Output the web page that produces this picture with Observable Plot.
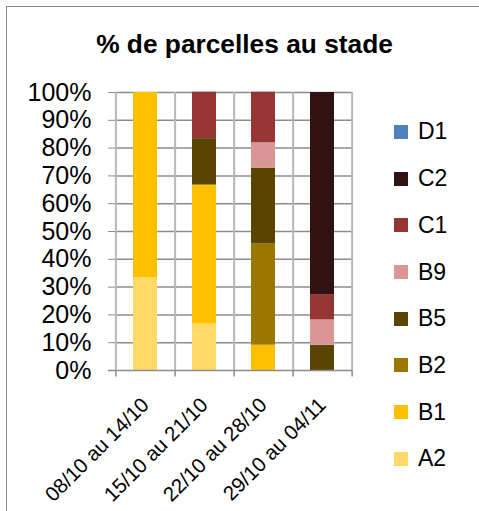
<!DOCTYPE html>
<html><head><meta charset="utf-8">
<script src="https://cdn.jsdelivr.net/npm/d3@7"></script>
<script src="https://cdn.jsdelivr.net/npm/@observablehq/plot@0.6"></script>
<style>
body{margin:0;background:#fff;font-family:"Liberation Sans",Arial,sans-serif;}
#wrap{position:relative;width:479px;height:511px;overflow:hidden;background:#fff;}
#frame{position:absolute;left:6px;top:6px;width:700px;height:700px;border:1.5px solid #8a8a8a;}
#title{position:absolute;left:0;top:31px;width:489px;text-align:center;font-weight:bold;font-size:26.3px;line-height:26px;color:#000;}
#chart{position:absolute;left:0;top:0;}
#legend{position:absolute;left:394px;top:108.6px;}
.item{display:flex;align-items:center;height:46.7px;font-size:23px;color:#000;}
.sw{width:14px;height:14px;margin-right:10px;}
</style>
</head><body>
<div id="wrap">
  <div id="frame"></div>
  <div id="chart"></div>
  <div id="title">% de parcelles au stade</div>
  <div id="legend"></div>
</div>
<script>
const periods = ["08/10 au 14/10", "15/10 au 21/10", "22/10 au 28/10", "29/10 au 04/11"];
const stages = ["A2", "B1", "B2", "B5", "B9", "C1", "C2", "D1"];
const stageColors = ["#FFD966", "#FFC000", "#9C7700", "#5A4500", "#DA9694", "#963634", "#321112", "#4F81BD"];
const A2 = [33.3, 16.7, 0, 0];
const B1 = [66.7, 50.0, 9.1, 0];
const B2 = [0, 0, 36.4, 0];
const B5 = [0, 16.7, 27.3, 9.1];
const B9 = [0, 0, 9.1, 9.1];
const C1 = [0, 16.7, 18.2, 9.1];
const C2 = [0, 0, 0, 72.7];
const D1 = [0, 0, 0, 0];
const yTicks = [0, 10, 20, 30, 40, 50, 60, 70, 80, 90, 100];

const series = {A2, B1, B2, B5, B9, C1, C2, D1};
const rows = [];
stages.forEach(s => series[s].forEach((v, i) => { if (v > 0) rows.push({stage: s, period: periods[i], value: v}); }));

const W = 479, H = 511, mL = 115, mR = 127, mT = 92, mB = 141;
const step = (W - mL - mR) / periods.length;
const gridDark = "#8c8c8c", gridLight = "#b7b7b7";

const chart = Plot.plot({
  width: W, height: H,
  marginLeft: mL, marginRight: mR, marginTop: mT, marginBottom: mB,
  style: {fontFamily: "'Liberation Sans', Arial, sans-serif", background: "transparent", color: "#000", overflow: "visible"},
  x: {domain: periods, paddingInner: 0.59, paddingOuter: 0.295, label: null},
  y: {domain: [0, 100], label: null},
  color: {domain: stages, range: stageColors},
  marks: [
    Plot.ruleY(yTicks.slice(1), {stroke: gridDark, strokeWidth: 1.5}),
    Plot.ruleX(periods, {x: d => d, dx: step / 2, y1: 0, y2: 100, stroke: gridLight, strokeWidth: 2}),
    Plot.ruleX([periods[0]], {x: d => d, dx: -step / 2, y1: 0, y2: 100, stroke: gridLight, strokeWidth: 2}),
    Plot.barY(rows, Plot.stackY({x: "period", y: "value", fill: "stage", order: null})),
    Plot.ruleY([0], {stroke: gridDark, strokeWidth: 1.5, insetLeft: -7}),
    Plot.ruleX(periods, {x: d => d, dx: step / 2, y1: 0, y2: -2.3, stroke: gridDark, strokeWidth: 1.5}),
    Plot.ruleX([periods[0]], {x: d => d, dx: -step / 2, y1: 0, y2: -2.3, stroke: gridDark, strokeWidth: 1.5}),
    Plot.axisY({ticks: yTicks, tickFormat: d => d + "%", tickSize: 7, tickPadding: 17, fontSize: 25, stroke: gridDark, fill: "#000", label: null}),
    Plot.axisX({tickSize: 0, tickRotate: -45, tickPadding: 31, fontSize: 20.5, fill: "#000", label: null})
  ]
});
document.getElementById("chart").appendChild(chart);

const legend = document.getElementById("legend");
stages.slice().reverse().forEach(s => {
  const it = document.createElement("div");
  it.className = "item";
  const sw = document.createElement("div");
  sw.className = "sw";
  sw.style.background = stageColors[stages.indexOf(s)];
  const tx = document.createElement("span");
  tx.textContent = s;
  it.appendChild(sw); it.appendChild(tx);
  legend.appendChild(it);
});
</script>
</body></html>
